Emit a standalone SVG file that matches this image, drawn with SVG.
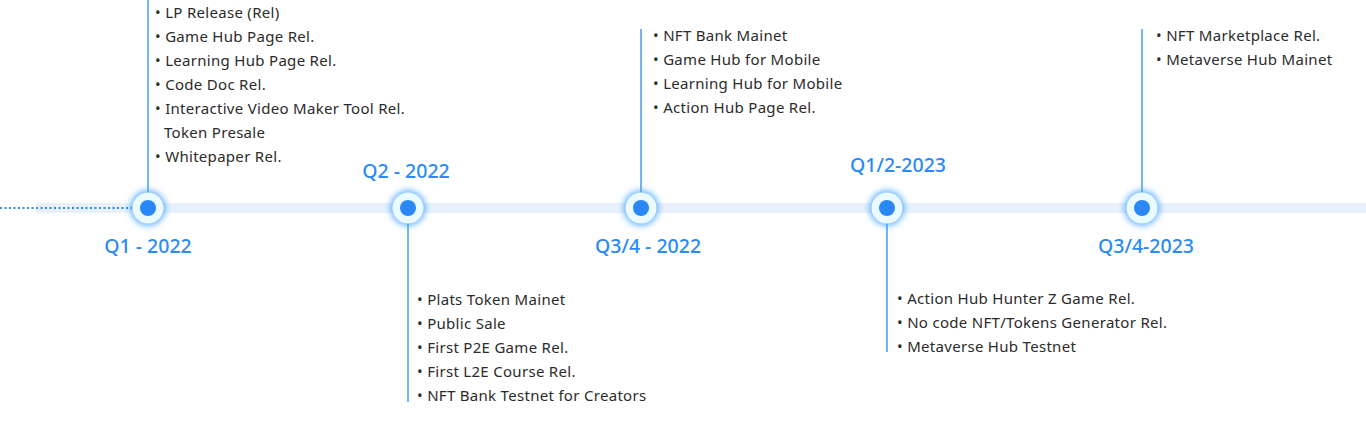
<svg xmlns="http://www.w3.org/2000/svg" width="1366" height="430" viewBox="0 0 1366 430">
<defs>
<filter id="glow" x="-100%" y="-100%" width="300%" height="300%">
<feGaussianBlur stdDeviation="3.5"/>
</filter>
</defs>
<style>
.track{fill:#e8f1fb}
.dots{stroke:#2a8af6;stroke-width:2;stroke-dasharray:2 2.5}
.stem{stroke:#2a8af6;stroke-width:1.3}
.halo{fill:#4aa6ff;filter:url(#glow)}
.ring{fill:#eafaff}
.dot{fill:#2a88f6}
.q{font-family:"Noto Sans",sans-serif;font-size:19.5px;font-weight:500;fill:#2a8af6;text-anchor:middle}
.t{font-family:"Noto Sans",sans-serif;font-size:15px;letter-spacing:0.3px;fill:#2b2b2b}
</style>
<rect width="1366" height="430" fill="#fff"/>
<rect class="track" x="36" y="203" width="1330" height="10"/>
<g id="connectors">
<line class="dots" x1="0" y1="208" x2="132" y2="208"/>
<line class="stem" x1="148" y1="0" x2="148" y2="208"/>
<line class="stem" x1="408" y1="208" x2="408" y2="402"/>
<line class="stem" x1="641" y1="29" x2="641" y2="208"/>
<line class="stem" x1="887" y1="208" x2="887" y2="352"/>
<line class="stem" x1="1142" y1="29" x2="1142" y2="208"/>
</g>
<g id="q1-2022">
<circle class="halo" cx="148" cy="208" r="17"/><circle class="ring" cx="148" cy="208" r="15.5"/><circle class="dot" cx="148" cy="208" r="8"/>
<text class="q" x="148" y="253">Q1 - 2022</text>
<text class="t"><tspan x="155" y="18">• LP Release (Rel)</tspan><tspan x="155" y="42">• Game Hub Page Rel.</tspan><tspan x="155" y="66">• Learning Hub Page Rel.</tspan><tspan x="155" y="90">• Code Doc Rel.</tspan><tspan x="155" y="114">• Interactive Video Maker Tool Rel.</tspan><tspan x="164" y="138">Token Presale</tspan><tspan x="155" y="162">• Whitepaper Rel.</tspan></text>
</g>
<g id="q2-2022">
<circle class="halo" cx="408" cy="208" r="17"/><circle class="ring" cx="408" cy="208" r="15.5"/><circle class="dot" cx="408" cy="208" r="8"/>
<text class="q" x="406" y="178">Q2 - 2022</text>
<text class="t"><tspan x="417" y="305">• Plats Token Mainet</tspan><tspan x="417" y="329">• Public Sale</tspan><tspan x="417" y="353">• First P2E Game Rel.</tspan><tspan x="417" y="377">• First L2E Course Rel.</tspan><tspan x="417" y="401">• NFT Bank Testnet for Creators</tspan></text>
</g>
<g id="q34-2022">
<circle class="halo" cx="641" cy="208" r="17"/><circle class="ring" cx="641" cy="208" r="15.5"/><circle class="dot" cx="641" cy="208" r="8"/>
<text class="q" x="648" y="253">Q3/4 - 2022</text>
<text class="t"><tspan x="653" y="41">•  NFT Bank Mainet</tspan><tspan x="653" y="65">•  Game Hub for Mobile</tspan><tspan x="653" y="89">•  Learning Hub for Mobile</tspan><tspan x="653" y="113">•  Action Hub Page Rel.</tspan></text>
</g>
<g id="q12-2023">
<circle class="halo" cx="887" cy="208" r="17"/><circle class="ring" cx="887" cy="208" r="15.5"/><circle class="dot" cx="887" cy="208" r="8"/>
<text class="q" x="898" y="172">Q1/2-2023</text>
<text class="t"><tspan x="897" y="304">• Action Hub Hunter Z Game Rel.</tspan><tspan x="897" y="328">• No code NFT/Tokens Generator Rel.</tspan><tspan x="897" y="352">• Metaverse Hub Testnet</tspan></text>
</g>
<g id="q34-2023">
<circle class="halo" cx="1142" cy="208" r="17"/><circle class="ring" cx="1142" cy="208" r="15.5"/><circle class="dot" cx="1142" cy="208" r="8"/>
<text class="q" x="1146" y="253">Q3/4-2023</text>
<text class="t"><tspan x="1156" y="41">•  NFT Marketplace Rel.</tspan><tspan x="1156" y="65">•  Metaverse Hub Mainet</tspan></text>
</g>
</svg>
